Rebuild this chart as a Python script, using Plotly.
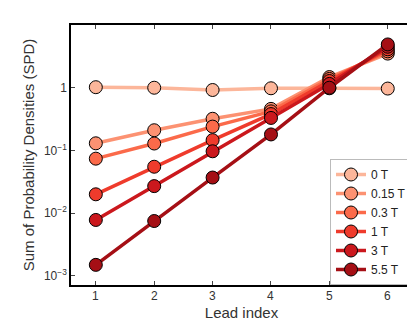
import plotly.graph_objects as go

lead_index = [1, 2, 3, 4, 5, 6]
field_labels = ["0 T", "0.15 T", "0.3 T", "1 T", "3 T", "5.5 T"]
spd_0T = [1.02, 1.0, 0.92, 0.98, 0.98, 0.97]
spd_015T = [0.13, 0.21, 0.32, 0.46, 1.48, 3.5]
spd_03T = [0.074, 0.129, 0.24, 0.42, 1.38, 3.8]
spd_1T = [0.020, 0.055, 0.146, 0.38, 1.28, 4.1]
spd_3T = [0.0078, 0.027, 0.097, 0.33, 1.15, 4.5]
spd_55T = [0.0015, 0.0075, 0.037, 0.18, 1.0, 4.9]

series = [spd_0T, spd_015T, spd_03T, spd_1T, spd_3T, spd_55T]
colors = ["#fcb69a", "#fc9272", "#fb6a4a", "#ef3b2c", "#cb181d", "#a50f15"]

fig = go.Figure()
for name, ys, c in zip(field_labels, series, colors):
    fig.add_trace(go.Scatter(
        x=lead_index, y=ys, name=name, mode="lines+markers",
        line=dict(color=c, width=3.5),
        marker=dict(color=c, size=13, line=dict(color="black", width=1)),
    ))

# x tick labels sit closer to the axis than plotly allows, so draw them as annotations
for v in lead_index:
    fig.add_annotation(x=v, y=0, xref="x", yref="paper", text=str(v),
                       showarrow=False, yanchor="top", yshift=-2,
                       font=dict(size=12, color="#333"))

tv = [0.001, 0.01, 0.1, 1]
tt = ["10<sup>−3</sup>", "10<sup>−2</sup>", "10<sup>−1</sup>", "1"]

fig.update_layout(
    width=415, height=323,
    margin=dict(l=63, r=9, t=17, b=46),
    paper_bgcolor="white", plot_bgcolor="white",
    font=dict(family="Liberation Sans, Arial, sans-serif", size=12, color="#333"),
    legend=dict(x=1, y=0, xanchor="right", yanchor="bottom",
                bgcolor="white", bordercolor="#bbbbbb", borderwidth=1,
                font=dict(size=12, color="#222"), tracegroupgap=0),
)
fig.update_xaxes(
    range=[0.575, 6.415], tickvals=lead_index, ticks="inside", ticklen=4,
    showticklabels=False,
    showline=True, linecolor="black", linewidth=1.5, mirror="ticks",
    showgrid=False, zeroline=False,
    title=dict(text="Lead index", font=dict(size=15, color="#333"), standoff=22),
)
fig.update_yaxes(
    type="log", range=[-3.145, 1.0], tickvals=tv, ticktext=tt,
    ticks="inside", ticklen=4,
    showline=True, linecolor="black", linewidth=1.5, mirror="ticks",
    showgrid=False, zeroline=False,
    title=dict(text="Sum of Probability Densities (SPD)", font=dict(size=15, color="#333"), standoff=6),
)

fig.write_html("out.html")
